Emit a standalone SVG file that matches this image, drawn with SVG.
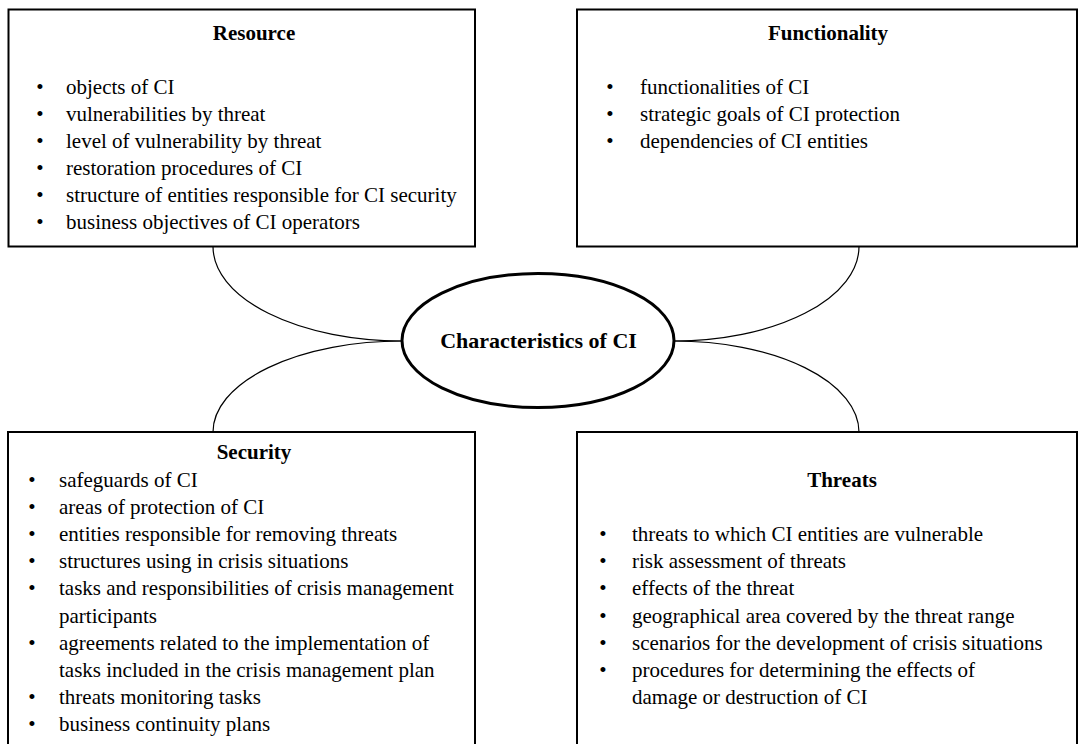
<svg xmlns="http://www.w3.org/2000/svg" width="1083" height="744" viewBox="0 0 1083 744">
  <style>
    .box { fill: #fff; stroke: #000; stroke-width: 2; }
    .hub { fill: #fff; stroke: #000; stroke-width: 3; }
    .link { fill: none; stroke: #000; stroke-width: 1.2; }
    text { font-family: "Liberation Serif", "Times New Roman", serif; font-size: 21px; fill: #000; }
    .title { font-weight: bold; text-anchor: middle; }
    .hubtext { font-weight: bold; text-anchor: middle; font-size: 22px; }
    .dot { text-anchor: middle; }
  </style>
  <rect width="1083" height="744" fill="#fff"/>

  <!-- connectors from the central ellipse to the four boxes -->
  <g id="connectors">
    <path class="link" d="M213,246.5 A189,94.5 0 0 0 402,341"/>
    <path class="link" d="M859,246.5 A185,94.5 0 0 1 674,341"/>
    <path class="link" d="M213,432 A189,91 0 0 1 402,341"/>
    <path class="link" d="M859,432 A185,91 0 0 0 674,341"/>
  </g>

  <g id="resource">
    <rect class="box" x="8.5" y="9.5" width="466.5" height="237"/>
    <text class="title" x="254" y="40">Resource</text>
    <g class="dot">
      <text x="40" y="94">•</text>
      <text x="40" y="121">•</text>
      <text x="40" y="148">•</text>
      <text x="40" y="175">•</text>
      <text x="40" y="202">•</text>
      <text x="40" y="229">•</text>
    </g>
    <text x="66" y="94">objects of CI</text>
    <text x="66" y="121">vulnerabilities by threat</text>
    <text x="66" y="148">level of vulnerability by threat</text>
    <text x="66" y="175">restoration procedures of CI</text>
    <text x="66" y="202">structure of entities responsible for CI security</text>
    <text x="66" y="229">business objectives of CI operators</text>
  </g>

  <g id="functionality">
    <rect class="box" x="577" y="9.5" width="500" height="237"/>
    <text class="title" x="828" y="40">Functionality</text>
    <g class="dot">
      <text x="610" y="94">•</text>
      <text x="610" y="121">•</text>
      <text x="610" y="148">•</text>
    </g>
    <text x="640" y="94">functionalities of CI</text>
    <text x="640" y="121">strategic goals of CI protection</text>
    <text x="640" y="148">dependencies of CI entities</text>
  </g>

  <g id="security">
    <rect class="box" x="8" y="432" width="467" height="313"/>
    <text class="title" x="254" y="459">Security</text>
    <g class="dot">
      <text x="32" y="486.5">•</text>
      <text x="32" y="513.7">•</text>
      <text x="32" y="540.9">•</text>
      <text x="32" y="568.1">•</text>
      <text x="32" y="595.3">•</text>
      <text x="32" y="649.7">•</text>
      <text x="32" y="704.1">•</text>
      <text x="32" y="731.3">•</text>
    </g>
    <text x="59" y="486.5">safeguards of CI</text>
    <text x="59" y="513.7">areas of protection of CI</text>
    <text x="59" y="540.9">entities responsible for removing threats</text>
    <text x="59" y="568.1">structures using in crisis situations</text>
    <text x="59" y="595.3">tasks and responsibilities of crisis management</text>
    <text x="59" y="622.5">participants</text>
    <text x="59" y="649.7">agreements related to the implementation of</text>
    <text x="59" y="676.9">tasks included in the crisis management plan</text>
    <text x="59" y="704.1">threats monitoring tasks</text>
    <text x="59" y="731.3">business continuity plans</text>
  </g>

  <g id="threats">
    <rect class="box" x="577" y="432" width="500" height="313"/>
    <text class="title" x="842" y="486.5">Threats</text>
    <g class="dot">
      <text x="603" y="540.9">•</text>
      <text x="603" y="568.1">•</text>
      <text x="603" y="595.3">•</text>
      <text x="603" y="622.5">•</text>
      <text x="603" y="649.7">•</text>
      <text x="603" y="676.9">•</text>
    </g>
    <text x="632" y="540.9">threats to which CI entities are vulnerable</text>
    <text x="632" y="568.1">risk assessment of threats</text>
    <text x="632" y="595.3">effects of the threat</text>
    <text x="632" y="622.5">geographical area covered by the threat range</text>
    <text x="632" y="649.7">scenarios for the development of crisis situations</text>
    <text x="632" y="676.9">procedures for determining the effects of</text>
    <text x="632" y="704.1">damage or destruction of CI</text>
  </g>

  <g id="characteristics">
    <ellipse class="hub" cx="538" cy="340.5" rx="136" ry="67"/>
    <text class="hubtext" x="538.5" y="348">Characteristics of CI</text>
  </g>
</svg>
